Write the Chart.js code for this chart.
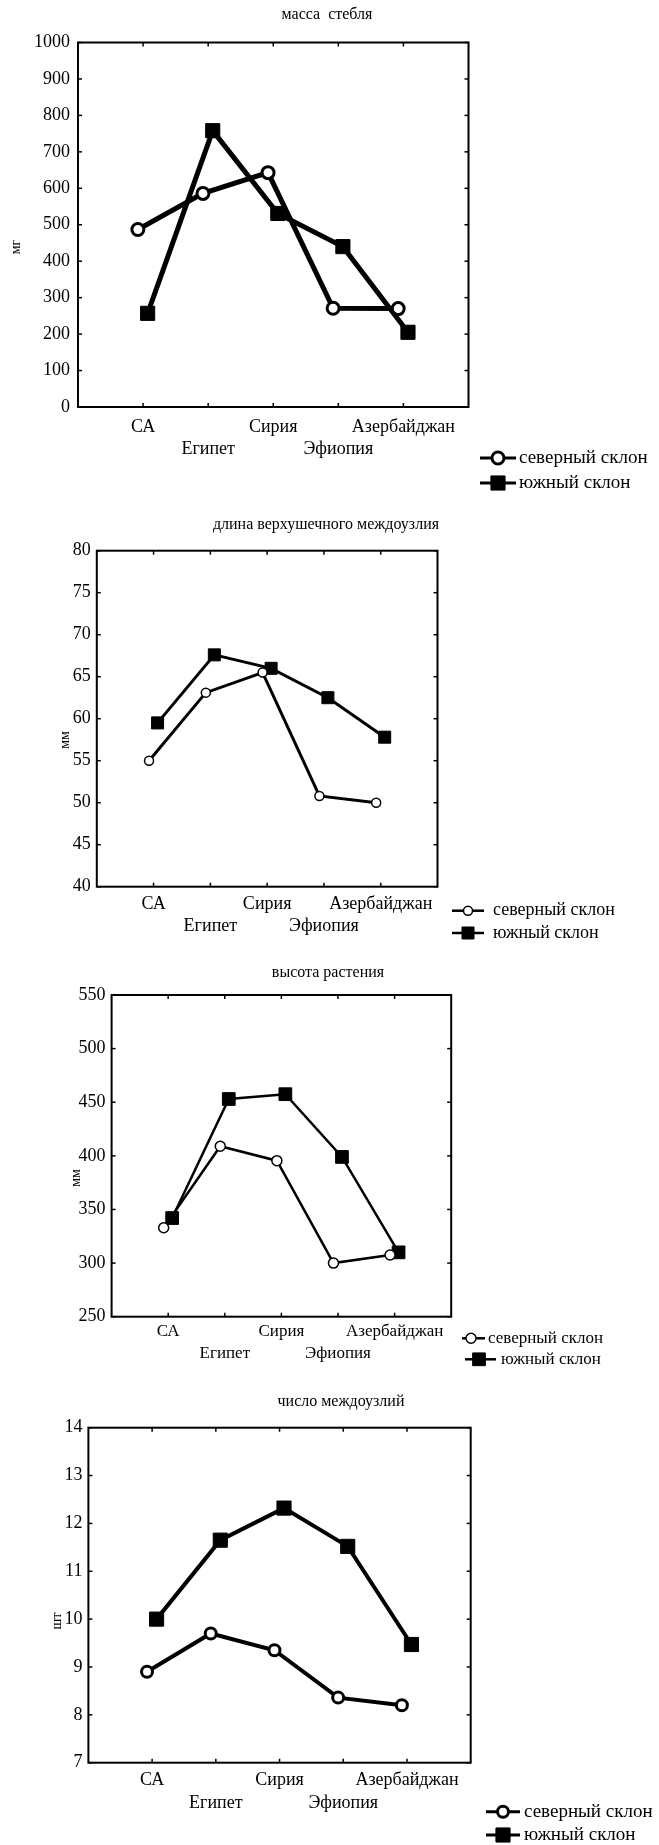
<!DOCTYPE html>
<html>
<head>
<meta charset="utf-8">
<script src="https://cdn.jsdelivr.net/npm/chart.js@4/dist/chart.umd.min.js"></script>
<style>
  html, body { margin: 0; padding: 0; background: #fff; }
  body { width: 659px; height: 1845px; position: relative; overflow: hidden; }
  canvas { position: absolute; left: 0; top: 0; }
</style>
</head>
<body>
<canvas id="c1" width="659" height="1845"></canvas>
<canvas id="c2" width="659" height="1845"></canvas>
<canvas id="c3" width="659" height="1845"></canvas>
<canvas id="c4" width="659" height="1845"></canvas>
<script>
// Регионы происхождения и склоны
const regions = ['СА', 'Египет', 'Сирия', 'Эфиопия', 'Азербайджан'];
const slopeNames = ['северный склон', 'южный склон'];

// масса стебля, мг
const stemMassNorth = [487, 586, 643, 271, 270];
const stemMassSouth = [257, 758, 531, 440, 205];
const stemMassAxis = { min: 0, max: 1000, step: 100 };

// длина верхушечного междоузлия, мм
const apicalInternodeNorth = [55.0, 63.1, 65.5, 50.8, 50.0];
const apicalInternodeSouth = [59.5, 67.6, 66.0, 62.5, 57.8];
const apicalInternodeAxis = { min: 40, max: 80, step: 5 };

// высота растения, мм
const plantHeightNorth = [333, 409, 395.5, 300, 307.5];
const plantHeightSouth = [342, 453, 457.5, 399, 310];
const plantHeightAxis = { min: 250, max: 550, step: 50 };

// число междоузлий, шт
const internodeCountNorth = [8.9, 9.7, 9.35, 8.36, 8.2];
const internodeCountSouth = [10.0, 11.65, 12.32, 11.52, 9.47];
const internodeCountAxis = { min: 7, max: 14, step: 1 };

// small horizontal shift so the two slopes do not hide each other
const NORTH_SHIFT = -0.08;
const SOUTH_SHIFT = 0.07;

const SERIF = "'Liberation Serif', 'Times New Roman', serif";
const PAGE_W = 659, PAGE_H = 1845;

const panels = [
  {
    canvas: 'c1', title: 'масса  стебля', unit: 'мг',
    north: stemMassNorth, south: stemMassSouth, axis: stemMassAxis,
    area: { left: 78, top: 42.5, right: 468.5, bottom: 407 },
    titlePos: { x: 327, y: 15 }, titleFont: 16,
    unitPos: { x: 16, y: 247 }, unitFont: 14,
    line: 5, circle: { r: 6, bw: 3 }, square: { r: 10 },
    tickFont: 18, tickPad: 8, catFont: 18, catLH: 22.5, catPad: 9,
    frame: 2, tickLen: 4,
    legend: { font: 19, lineW: 3, rows: [
      { x0: 480, x1: 516, mx: 498, tx: 519, y: 458 },
      { x0: 480, x1: 516, mx: 498, tx: 519, y: 483 } ] }
  },
  {
    canvas: 'c2', title: 'длина верхушечного междоузлия', unit: 'мм',
    north: apicalInternodeNorth, south: apicalInternodeSouth, axis: apicalInternodeAxis,
    area: { left: 96.8, top: 550.7, right: 437.5, bottom: 886.7 },
    titlePos: { x: 326, y: 525 }, titleFont: 16,
    unitPos: { x: 65, y: 740 }, unitFont: 14,
    line: 3, circle: { r: 4.5, bw: 1.5 }, square: { r: 8.5 },
    tickFont: 18, tickPad: 6, catFont: 18, catLH: 22.7, catPad: 6,
    frame: 2, tickLen: 4,
    legend: { font: 18, lineW: 2.5, rows: [
      { x0: 452, x1: 484, mx: 468, tx: 493, y: 910.7 },
      { x0: 452, x1: 484, mx: 468, tx: 493, y: 933 } ] }
  },
  {
    canvas: 'c3', title: 'высота растения', unit: 'мм',
    north: plantHeightNorth, south: plantHeightSouth, axis: plantHeightAxis,
    area: { left: 111.6, top: 995, right: 451.2, bottom: 1316.7 },
    titlePos: { x: 328, y: 972.7 }, titleFont: 16,
    unitPos: { x: 76, y: 1178 }, unitFont: 14,
    line: 2.5, circle: { r: 5, bw: 1.5 }, square: { r: 9 },
    tickFont: 18, tickPad: 6, catFont: 17, catLH: 21.3, catPad: 4.5,
    frame: 2, tickLen: 4,
    legend: { font: 17, lineW: 2.5, rows: [
      { x0: 462, x1: 485, mx: 471, tx: 488, y: 1338.3 },
      { x0: 465, x1: 496, mx: 479, tx: 501, y: 1359.3 } ] }
  },
  {
    canvas: 'c4', title: 'число междоузлий', unit: 'шт',
    north: internodeCountNorth, south: internodeCountSouth, axis: internodeCountAxis,
    area: { left: 88.4, top: 1427.7, right: 470.7, bottom: 1762.7 },
    titlePos: { x: 341, y: 1401.7 }, titleFont: 16,
    unitPos: { x: 57, y: 1621 }, unitFont: 14,
    line: 4, circle: { r: 5.5, bw: 3 }, square: { r: 10 },
    tickFont: 18, tickPad: 6, catFont: 18, catLH: 23, catPad: 6,
    frame: 2, tickLen: 4,
    legend: { font: 19, lineW: 3, rows: [
      { x0: 486, x1: 520, mx: 503, tx: 524, y: 1811.7 },
      { x0: 486, x1: 520, mx: 503, tx: 524, y: 1835 } ] }
  }
];

function strokeLine(ctx, x0, y0, x1, y1) {
  ctx.beginPath();
  ctx.moveTo(x0, y0);
  ctx.lineTo(x1, y1);
  ctx.stroke();
}

// frame with inward ticks, heading, unit label and the line+marker key
function makeDecor(p) {
  return {
    id: 'panelDecor',
    beforeDatasetsDraw(chart) {
      const ctx = chart.ctx, a = chart.chartArea;
      const xs = chart.scales.x, ys = chart.scales.y;
      ctx.save();
      ctx.strokeStyle = '#000';
      ctx.lineWidth = p.frame;
      ctx.strokeRect(a.left, a.top, a.right - a.left, a.bottom - a.top);
      ctx.lineWidth = 1.5;
      xs.ticks.forEach(t => {
        if (t.value < 0 || t.value >= regions.length) return;
        const x = xs.getPixelForValue(t.value);
        strokeLine(ctx, x, a.bottom, x, a.bottom - p.tickLen);
        strokeLine(ctx, x, a.top, x, a.top + p.tickLen);
      });
      ys.ticks.forEach(t => {
        const y = ys.getPixelForValue(t.value);
        strokeLine(ctx, a.left, y, a.left + p.tickLen, y);
        strokeLine(ctx, a.right, y, a.right - p.tickLen, y);
      });
      ctx.restore();
    },
    afterDraw(chart) {
      const ctx = chart.ctx;
      ctx.save();
      ctx.fillStyle = '#000';
      ctx.textAlign = 'center';
      ctx.textBaseline = 'middle';
      ctx.font = p.titleFont + 'px ' + SERIF;
      ctx.fillText(p.title, p.titlePos.x, p.titlePos.y);

      ctx.save();
      ctx.translate(p.unitPos.x, p.unitPos.y);
      ctx.rotate(-Math.PI / 2);
      ctx.font = p.unitFont + 'px ' + SERIF;
      ctx.fillText(p.unit, 0, 0);
      ctx.restore();

      chart.data.datasets.forEach((ds, i) => {
        const row = p.legend.rows[i];
        ctx.strokeStyle = '#000';
        ctx.lineWidth = p.legend.lineW;
        strokeLine(ctx, row.x0, row.y, row.x1, row.y);
        ctx.fillStyle = ds.pointBackgroundColor;
        ctx.strokeStyle = ds.pointBorderColor;
        ctx.lineWidth = ds.pointBorderWidth;
        Chart.helpers.drawPoint(ctx, {
          pointStyle: ds.pointStyle, radius: ds.pointRadius,
          rotation: 0, borderWidth: ds.pointBorderWidth
        }, row.mx, row.y);
        ctx.fillStyle = '#000';
        ctx.textAlign = 'left';
        ctx.font = p.legend.font + 'px ' + SERIF;
        ctx.fillText(ds.label, row.tx, row.y);
      });
      ctx.restore();
    }
  };
}

function buildPanel(p) {
  const north = p.north.map((v, i) => ({ x: i + NORTH_SHIFT, y: v }));
  const south = p.south.map((v, i) => ({ x: i + SOUTH_SHIFT, y: v }));
  return new Chart(document.getElementById(p.canvas), {
    type: 'line',
    data: {
      datasets: [
        {
          label: slopeNames[0], data: north,
          borderColor: '#000', borderWidth: p.line, tension: 0, fill: false,
          pointStyle: 'circle', pointRadius: p.circle.r, pointBorderWidth: p.circle.bw,
          pointBackgroundColor: '#fff', pointBorderColor: '#000'
        },
        {
          label: slopeNames[1], data: south,
          borderColor: '#000', borderWidth: p.line, tension: 0, fill: false,
          pointStyle: 'rect', pointRadius: p.square.r, pointBorderWidth: 1,
          pointBackgroundColor: '#000', pointBorderColor: '#000'
        }
      ]
    },
    options: {
      responsive: false,
      animation: false,
      events: [],
      clip: false,
      layout: { padding: { top: p.area.top, right: PAGE_W - p.area.right, bottom: 0, left: 0 } },
      plugins: { legend: { display: false }, title: { display: false }, tooltip: { enabled: false } },
      scales: {
        x: {
          type: 'linear', position: 'bottom',
          min: -1, max: regions.length,
          afterFit: s => { s.height = PAGE_H - p.area.bottom; },
          grid: { display: false, drawTicks: false },
          border: { display: false },
          ticks: {
            stepSize: 1, autoSkip: false, maxRotation: 0, minRotation: 0,
            padding: p.catPad, color: '#000',
            font: { family: SERIF, size: p.catFont, lineHeight: p.catLH / p.catFont },
            callback: v => {
              const i = Math.round(v);
              if (i < 0 || i >= regions.length) return '';
              return i % 2 ? ['', regions[i]] : regions[i];
            }
          }
        },
        y: {
          type: 'linear', position: 'left',
          min: p.axis.min, max: p.axis.max,
          afterFit: s => { s.width = p.area.left; },
          grid: { display: false, drawTicks: false },
          border: { display: false },
          ticks: {
            stepSize: p.axis.step, padding: p.tickPad, color: '#000',
            font: { family: SERIF, size: p.tickFont },
            callback: v => String(v)
          }
        }
      }
    },
    plugins: [makeDecor(p)]
  });
}

panels.forEach(buildPanel);
</script>
</body>
</html>
